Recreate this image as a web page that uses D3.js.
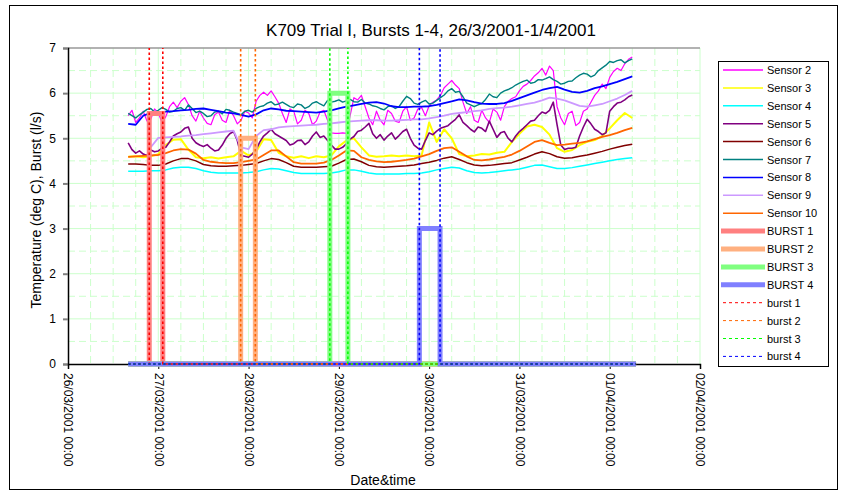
<!DOCTYPE html>
<html lang="en">
<head>
<meta charset="utf-8">
<script src="https://cdn.jsdelivr.net/npm/d3@7/dist/d3.min.js"></script>
<style>
  body { margin: 0; background: #fff; }
  text { font-family: "Liberation Sans", Arial, sans-serif; fill: #000; }
</style>
</head>
<body>
<script type="text/javascript">

// ---- data (hours since 26/03/2001 00:00) ----
var hours = [16,18,20,22,24,26,28,30,32,34, 36,38,40,42,44,46,48,50,52,54,
             56,58,60,62,64,66,68,70,72,74, 76,78,80,82,84,86,88,90,92,94,
             96,98,100,102,104,106,108,110,112,114, 116,118,120,122,124,126,128,130,132,134,
             136,138,140,142,144,146,148,150];
// extra readings in between for the noisier sensors
var hoursOdd = [17,19,21,23,25,27,29,31,33,35, 37,39,41,43,45,47,49,51,53,55,
                57,59,61,63,65,67,69,71,73,75, 77,79,81,83,85,87,89,91,93,95,
                97,99,101,103,105,107,109,111,113,115, 117,119,121,123,125,127,129,131,133,135,
                137,139,141,143,145,147,149];

var sensor2 = [5.50,5.35,5.60,5.42,5.56,5.48,5.80,5.82,5.75,5.38, 5.45,5.30,5.58,5.35,5.50,5.40,5.56,5.82,6.02,6.05,
               5.78,5.35,5.60,5.40,5.55,5.38,5.62,5.12,5.11,5.11, 5.90,5.95,5.45,5.60,5.30,5.55,5.35,5.70,5.45,5.68,
               5.72,5.85,6.12,6.28,6.10,5.55,5.40,5.62,5.35,5.58, 5.70,5.88,6.05,6.20,6.38,6.55,6.60,5.70,5.30,5.60,
               5.35,5.65,5.95,6.20,6.35,6.55,6.65,6.80];
var sensor2Odd = [5.62,5.45,5.38,5.65,5.35,5.70,5.68,5.90,5.50,5.60, 5.33,5.52,5.40,5.62,5.32,5.60,5.45,5.95,5.95,5.92,
                  5.55,5.65,5.32,5.62,5.30,5.58,5.40,5.11,5.12,5.50, 5.85,5.70,5.30,5.40,5.62,5.38,5.60,5.40,5.65,5.50,
                  5.80,5.95,6.20,6.18,5.80,5.70,5.35,5.45,5.65,5.40, 5.82,5.92,6.15,6.28,6.45,6.40,6.50,5.45,5.55,5.28,
                  5.60,5.80,6.05,6.10,6.48,6.50,6.75];
var sensor3 = [4.59,4.60,4.58,4.60,4.65,4.85,4.97,4.98,4.75,4.58, 4.56,4.58,4.55,4.58,4.60,4.72,4.62,4.70,4.98,4.96,
               4.68,4.60,4.57,4.60,4.56,4.60,4.58,4.62,4.82,4.95, 5.00,4.80,4.62,4.59,4.60,4.62,4.60,4.62,4.60,4.62,
               5.35,4.92,5.20,5.00,4.65,4.60,4.62,4.65,4.64,4.68, 4.70,4.92,5.10,5.26,5.30,5.25,5.08,4.78,4.70,4.74,
               4.85,4.92,4.96,5.05,5.22,5.40,5.56,5.45];
var sensor4 = [4.27,4.27,4.27,4.28,4.28,4.30,4.34,4.36,4.36,4.33, 4.28,4.25,4.23,4.23,4.23,4.23,4.24,4.26,4.30,4.33,
               4.32,4.28,4.24,4.22,4.22,4.22,4.22,4.23,4.26,4.30, 4.30,4.27,4.23,4.21,4.21,4.21,4.21,4.22,4.22,4.23,
               4.26,4.30,4.33,4.36,4.34,4.28,4.24,4.23,4.24,4.26, 4.28,4.30,4.32,4.36,4.40,4.41,4.37,4.33,4.33,4.35,
               4.38,4.41,4.44,4.47,4.50,4.53,4.55,4.57];
var sensor5 = [4.90,4.67,4.65,4.74,4.72,4.80,5.05,5.14,5.25,4.90, 4.82,4.78,4.74,5.00,5.15,4.62,4.58,4.75,5.05,5.20,
               5.05,4.95,4.88,4.96,4.92,5.14,5.05,4.85,4.76,4.88, 5.04,5.18,5.33,5.00,4.96,5.12,5.06,5.20,4.85,4.76,
               5.12,5.16,5.25,5.35,5.52,5.28,5.14,5.22,5.38,5.02, 5.15,4.92,5.15,5.30,5.40,5.58,5.62,5.30,4.75,4.78,
               5.05,5.42,5.20,5.08,5.60,5.78,5.85,5.96];
var sensor5Odd = [4.75,4.72,4.62,4.70,4.78,4.92,5.10,5.22,5.00,4.85, 4.86,4.72,4.85,5.10,4.95,4.60,4.65,4.92,5.12,5.10,
                  5.00,4.85,4.95,4.86,5.05,5.02,4.95,4.76,4.80,4.98, 5.15,5.25,5.10,5.08,5.05,4.98,5.15,5.00,4.78,4.95,
                  5.08,5.22,5.28,5.42,5.35,5.20,5.25,5.15,5.20,5.12, 5.00,5.05,5.22,5.38,5.50,5.55,5.80,4.85,4.78,4.80,
                  5.25,5.32,5.15,5.12,5.70,5.80,5.92];
var sensor6 = [4.43,4.43,4.42,4.40,4.40,4.43,4.50,4.55,4.55,4.50, 4.42,4.39,4.38,4.38,4.39,4.40,4.42,4.44,4.50,4.55,
               4.53,4.46,4.38,4.36,4.36,4.36,4.37,4.38,4.45,4.53, 4.54,4.48,4.40,4.37,4.36,4.37,4.38,4.39,4.41,4.44,
               4.47,4.51,4.56,4.59,4.53,4.46,4.41,4.39,4.40,4.42, 4.44,4.46,4.52,4.58,4.65,4.70,4.66,4.59,4.56,4.57,
               4.60,4.63,4.67,4.71,4.76,4.80,4.84,4.87];
var sensor7 = [5.55,5.45,5.58,5.66,5.62,5.64,5.60,5.68,5.74,5.57, 5.55,5.50,5.60,5.64,5.58,5.52,5.62,5.66,5.72,5.81,
               5.76,5.75,5.68,5.74,5.70,5.81,5.72,5.80,5.85,5.83, 5.81,5.86,5.76,5.70,5.63,5.72,5.70,5.93,5.78,5.80,
               5.76,5.84,5.96,6.10,6.04,5.78,5.70,5.77,5.98,5.90, 6.05,6.12,6.22,6.29,6.24,6.29,6.36,6.26,6.22,6.27,
               6.40,6.42,6.40,6.56,6.70,6.72,6.67,6.76];
var sensor7Odd = [5.50,5.52,5.64,5.58,5.68,5.58,5.66,5.62,5.66,5.60, 5.48,5.58,5.54,5.62,5.55,5.60,5.58,5.70,5.78,5.74,
                  5.80,5.70,5.76,5.66,5.78,5.76,5.84,5.82,5.80,5.86, 5.80,5.78,5.72,5.66,5.70,5.66,5.82,5.88,5.75,5.84,
                  5.78,5.90,6.05,6.02,5.92,5.74,5.74,5.86,5.92,6.00, 6.08,6.18,6.26,6.22,6.30,6.32,6.30,6.20,6.26,6.34,
                  6.44,6.36,6.50,6.62,6.68,6.74,6.72];
var sensor8 = [5.32,5.30,5.50,5.56,5.57,5.59,5.60,5.62,5.63,5.65, 5.66,5.63,5.60,5.57,5.55,5.52,5.48,5.53,5.62,5.66,
               5.64,5.61,5.60,5.59,5.58,5.57,5.59,5.62,5.66,5.70, 5.73,5.76,5.79,5.80,5.77,5.71,5.69,5.69,5.70,5.70,
               5.71,5.74,5.78,5.82,5.86,5.84,5.80,5.77,5.76,5.76, 5.78,5.83,5.89,5.95,6.01,6.07,6.11,6.14,6.08,6.03,
               6.01,6.05,6.11,6.15,6.20,6.25,6.31,6.37];
var sensor9 = [null,null,null,4.80,5.01,5.02,5.03,5.04,5.06,5.07, 5.09,5.11,5.13,5.15,5.17,4.80,4.76,5.05,5.18,5.20,
               5.24,5.26,5.27,5.28,5.29,5.30,5.32,5.33,5.35,5.37, 5.38,5.39,5.40,5.40,5.39,5.39,5.40,5.41,5.42,5.42,
               5.44,5.47,5.50,5.54,5.56,5.58,5.60,5.62,5.65,5.67, 5.68,5.70,5.73,5.76,5.79,5.84,5.90,5.88,5.84,5.78,
               5.72,5.70,5.73,5.76,5.82,5.88,5.96,6.05];
var sensor10 = [4.59,4.60,4.61,4.62,4.63,4.67,4.73,4.76,4.75,4.66, 4.52,4.48,4.46,4.45,4.45,4.47,4.50,4.53,4.63,4.73,
                4.73,4.60,4.47,4.44,4.44,4.44,4.46,4.52,4.62,4.73, 4.72,4.58,4.52,4.49,4.47,4.48,4.50,4.52,4.55,4.60,
                4.65,4.72,4.78,4.80,4.70,4.60,4.52,4.51,4.53,4.56, 4.59,4.64,4.72,4.82,4.92,4.96,4.90,4.85,4.86,4.88,
                4.90,4.93,4.98,5.03,5.07,5.12,5.18,5.23];

var sensorNames = ["Sensor 2","Sensor 3","Sensor 4","Sensor 5","Sensor 6","Sensor 7","Sensor 8","Sensor 9","Sensor 10"];
var sensorValues = [sensor2, sensor3, sensor4, sensor5, sensor6, sensor7, sensor8, sensor9, sensor10];
var sensorOddValues = [sensor2Odd, null, null, sensor5Odd, null, sensor7Odd, null, null, null];

// bursts: flow level (l/s) between start and end hour, 0 elsewhere
var burstNames = ["BURST 1","BURST 2","BURST 3","BURST 4"];
var markerNames = ["burst 1","burst 2","burst 3","burst 4"];
var burstStart = [21.6, 45.9, 69.6, 93.4];
var burstEnd = [25.2, 49.8, 74.4, 98.9];
var burstLevel = [5.55, 5.0, 6.0, 3.0];
var markerLevel = 10;   // off the top of the chart
var logFirst = 16, logLast = 151;

var xTickHours = [0,24,48,72,96,120,144,168];
var xTickLabels = ["26/03/2001 00:00","27/03/2001 00:00","28/03/2001 00:00","29/03/2001 00:00",
                   "30/03/2001 00:00","31/03/2001 00:00","01/04/2001 00:00","02/04/2001 00:00"];
var yTicks = [0,1,2,3,4,5,6,7];

// ---- styles ----
var sensorColors = ["#ff00ff","#ffff00","#00ffff","#800080","#800000","#008080","#0000ff","#cc99ff","#ff6600"];
var sensorWidths = [1.2, 2, 1.5, 1.6, 1.5, 1.4, 1.8, 1.8, 1.8];
var burstColors = ["#ff8080","#ffb080","#80ff80","#8080ff"];
var markerColors = ["#ff0000","#ff6600","#00ff00","#0000ff"];
var gridColor = "#ccffcc";

var svgWidth = 841, svgHeight = 493;
var svg = d3.select("body").append("svg")
  .attr("width", svgWidth)
  .attr("height", svgHeight);

// chart border
svg.append("rect")
  .attr("x", 9.5).attr("y", 5.5).attr("width", 828).attr("height", 484)
  .attr("fill", "#fff").attr("stroke", "#000").attr("stroke-width", 1);

var x = d3.scaleLinear().domain([0, 168]).range([68, 700]);
var y = d3.scaleLinear().domain([0, 7]).range([364, 48]);

svg.append("clipPath").attr("id", "plotclip")
  .append("rect").attr("x", x(0)).attr("y", y(7)).attr("width", x(168) - x(0)).attr("height", y(0) - y(7) + 4);

// gridlines
var g = svg.append("g");
d3.range(6, 168, 6).forEach(function(h) {
  var major = h % 24 === 0;
  g.append("line")
    .attr("x1", x(h)).attr("x2", x(h)).attr("y1", y(7)).attr("y2", y(0))
    .attr("stroke", gridColor).attr("stroke-width", 1)
    .attr("stroke-dasharray", major ? null : "7,4");
});
g.append("line").attr("x1", x(168)).attr("x2", x(168)).attr("y1", y(7)).attr("y2", y(0))
  .attr("stroke", gridColor);
d3.range(0.5, 7, 0.5).forEach(function(v) {
  var major = v % 1 === 0;
  g.append("line")
    .attr("x1", x(0)).attr("x2", x(168)).attr("y1", y(v)).attr("y2", y(v))
    .attr("stroke", gridColor).attr("stroke-width", 1)
    .attr("stroke-dasharray", major ? null : "7,4");
});
g.append("line").attr("x1", x(0)).attr("x2", x(168)).attr("y1", y(7)).attr("y2", y(7))
  .attr("stroke", "#999").attr("stroke-width", 1.5);

// axes
var yAxis = svg.append("g")
  .attr("transform", "translate(" + x(0) + ",0)")
  .call(d3.axisLeft(y).tickValues(yTicks).tickSize(5).tickPadding(7).tickFormat(d3.format("d")));
yAxis.select(".domain").attr("stroke", "#000").attr("stroke-width", 1.5);
yAxis.selectAll(".tick line").attr("stroke", "#808080").attr("stroke-width", 2);
yAxis.selectAll("text").attr("font-size", 12).attr("font-family", "Liberation Sans, Arial, sans-serif");

var xAxis = svg.append("g")
  .attr("transform", "translate(0," + y(0) + ")")
  .call(d3.axisBottom(x).tickValues(xTickHours).tickSize(5)
        .tickFormat(function(d, i) { return xTickLabels[i]; }));
xAxis.select(".domain").attr("stroke", "#000").attr("stroke-width", 1.5);
xAxis.selectAll(".tick line").attr("stroke", "#000");
xAxis.selectAll("text")
  .attr("font-size", 12)
  .attr("font-family", "Liberation Sans, Arial, sans-serif")
  .attr("text-anchor", "start")
  .attr("transform", "rotate(90)")
  .attr("x", 9).attr("y", 0).attr("dy", "0.35em");

// sensor lines
var line = d3.line()
  .defined(function(d) { return d[1] !== null; })
  .x(function(d) { return x(d[0]); })
  .y(function(d) { return y(d[1]); });

sensorValues.forEach(function(vals, i) {
  var pts = hours.map(function(h, j) { return [h, vals[j]]; });
  var odd = sensorOddValues[i];
  if (odd) {
    hoursOdd.forEach(function(h, j) { pts.push([h, odd[j]]); });
    pts.sort(function(a, b) { return a[0] - b[0]; });
  }
  svg.append("path")
    .attr("d", line(pts))
    .attr("fill", "none")
    .attr("stroke", sensorColors[i])
    .attr("stroke-width", sensorWidths[i])
    .attr("stroke-linejoin", "round");
});

function stepPoints(s, e, lvl) {
  return [[logFirst, 0], [s, 0], [s, lvl], [e, lvl], [e, 0], [logLast, 0]];
}

// burst flow series
burstNames.forEach(function(n, i) {
  svg.append("path")
    .attr("d", line(stepPoints(burstStart[i], burstEnd[i], burstLevel[i])))
    .attr("fill", "none")
    .attr("stroke", burstColors[i])
    .attr("stroke-width", 5);
});

// burst marker series (dashed)
markerNames.forEach(function(n, i) {
  svg.append("path")
    .attr("clip-path", "url(#plotclip)")
    .attr("d", line(stepPoints(burstStart[i], burstEnd[i], markerLevel)))
    .attr("fill", "none")
    .attr("stroke", markerColors[i])
    .attr("stroke-width", 1.6)
    .attr("stroke-dasharray", "2.5,2.5");
});

// title & axis labels
svg.append("text")
  .attr("x", 431).attr("y", 36)
  .attr("text-anchor", "middle")
  .attr("font-size", 17)
  .text("K709 Trial I, Bursts 1-4, 26/3/2001-1/4/2001");

svg.append("text")
  .attr("transform", "translate(41,210) rotate(-90)")
  .attr("text-anchor", "middle")
  .attr("font-size", 14)
  .text("Temperature (deg C), Burst (l/s)");

svg.append("text")
  .attr("x", 383).attr("y", 485)
  .attr("text-anchor", "middle")
  .attr("font-size", 14)
  .text("Date&time");

// legend
var legend = svg.append("g");
legend.append("rect")
  .attr("x", 718.5).attr("y", 61.5).attr("width", 110).attr("height", 305)
  .attr("fill", "#fff").attr("stroke", "#000");

var legendItems = [];
sensorNames.forEach(function(n, i) { legendItems.push({name: n, color: sensorColors[i], w: 1.5, dash: null, x1: 723, x2: 763}); });
burstNames.forEach(function(n, i) { legendItems.push({name: n, color: burstColors[i], w: 5, dash: null, x1: 721, x2: 765}); });
markerNames.forEach(function(n, i) { legendItems.push({name: n, color: markerColors[i], w: 1, dash: "3,3", x1: 723, x2: 763}); });

legendItems.forEach(function(it, i) {
  var ly = 70 + i * 17.9;
  legend.append("line")
    .attr("x1", it.x1).attr("x2", it.x2).attr("y1", ly).attr("y2", ly)
    .attr("stroke", it.color).attr("stroke-width", it.w)
    .attr("stroke-dasharray", it.dash);
  legend.append("text")
    .attr("x", 767).attr("y", ly + 4)
    .attr("font-size", 11)
    .text(it.name);
});

</script>
</body>
</html>
